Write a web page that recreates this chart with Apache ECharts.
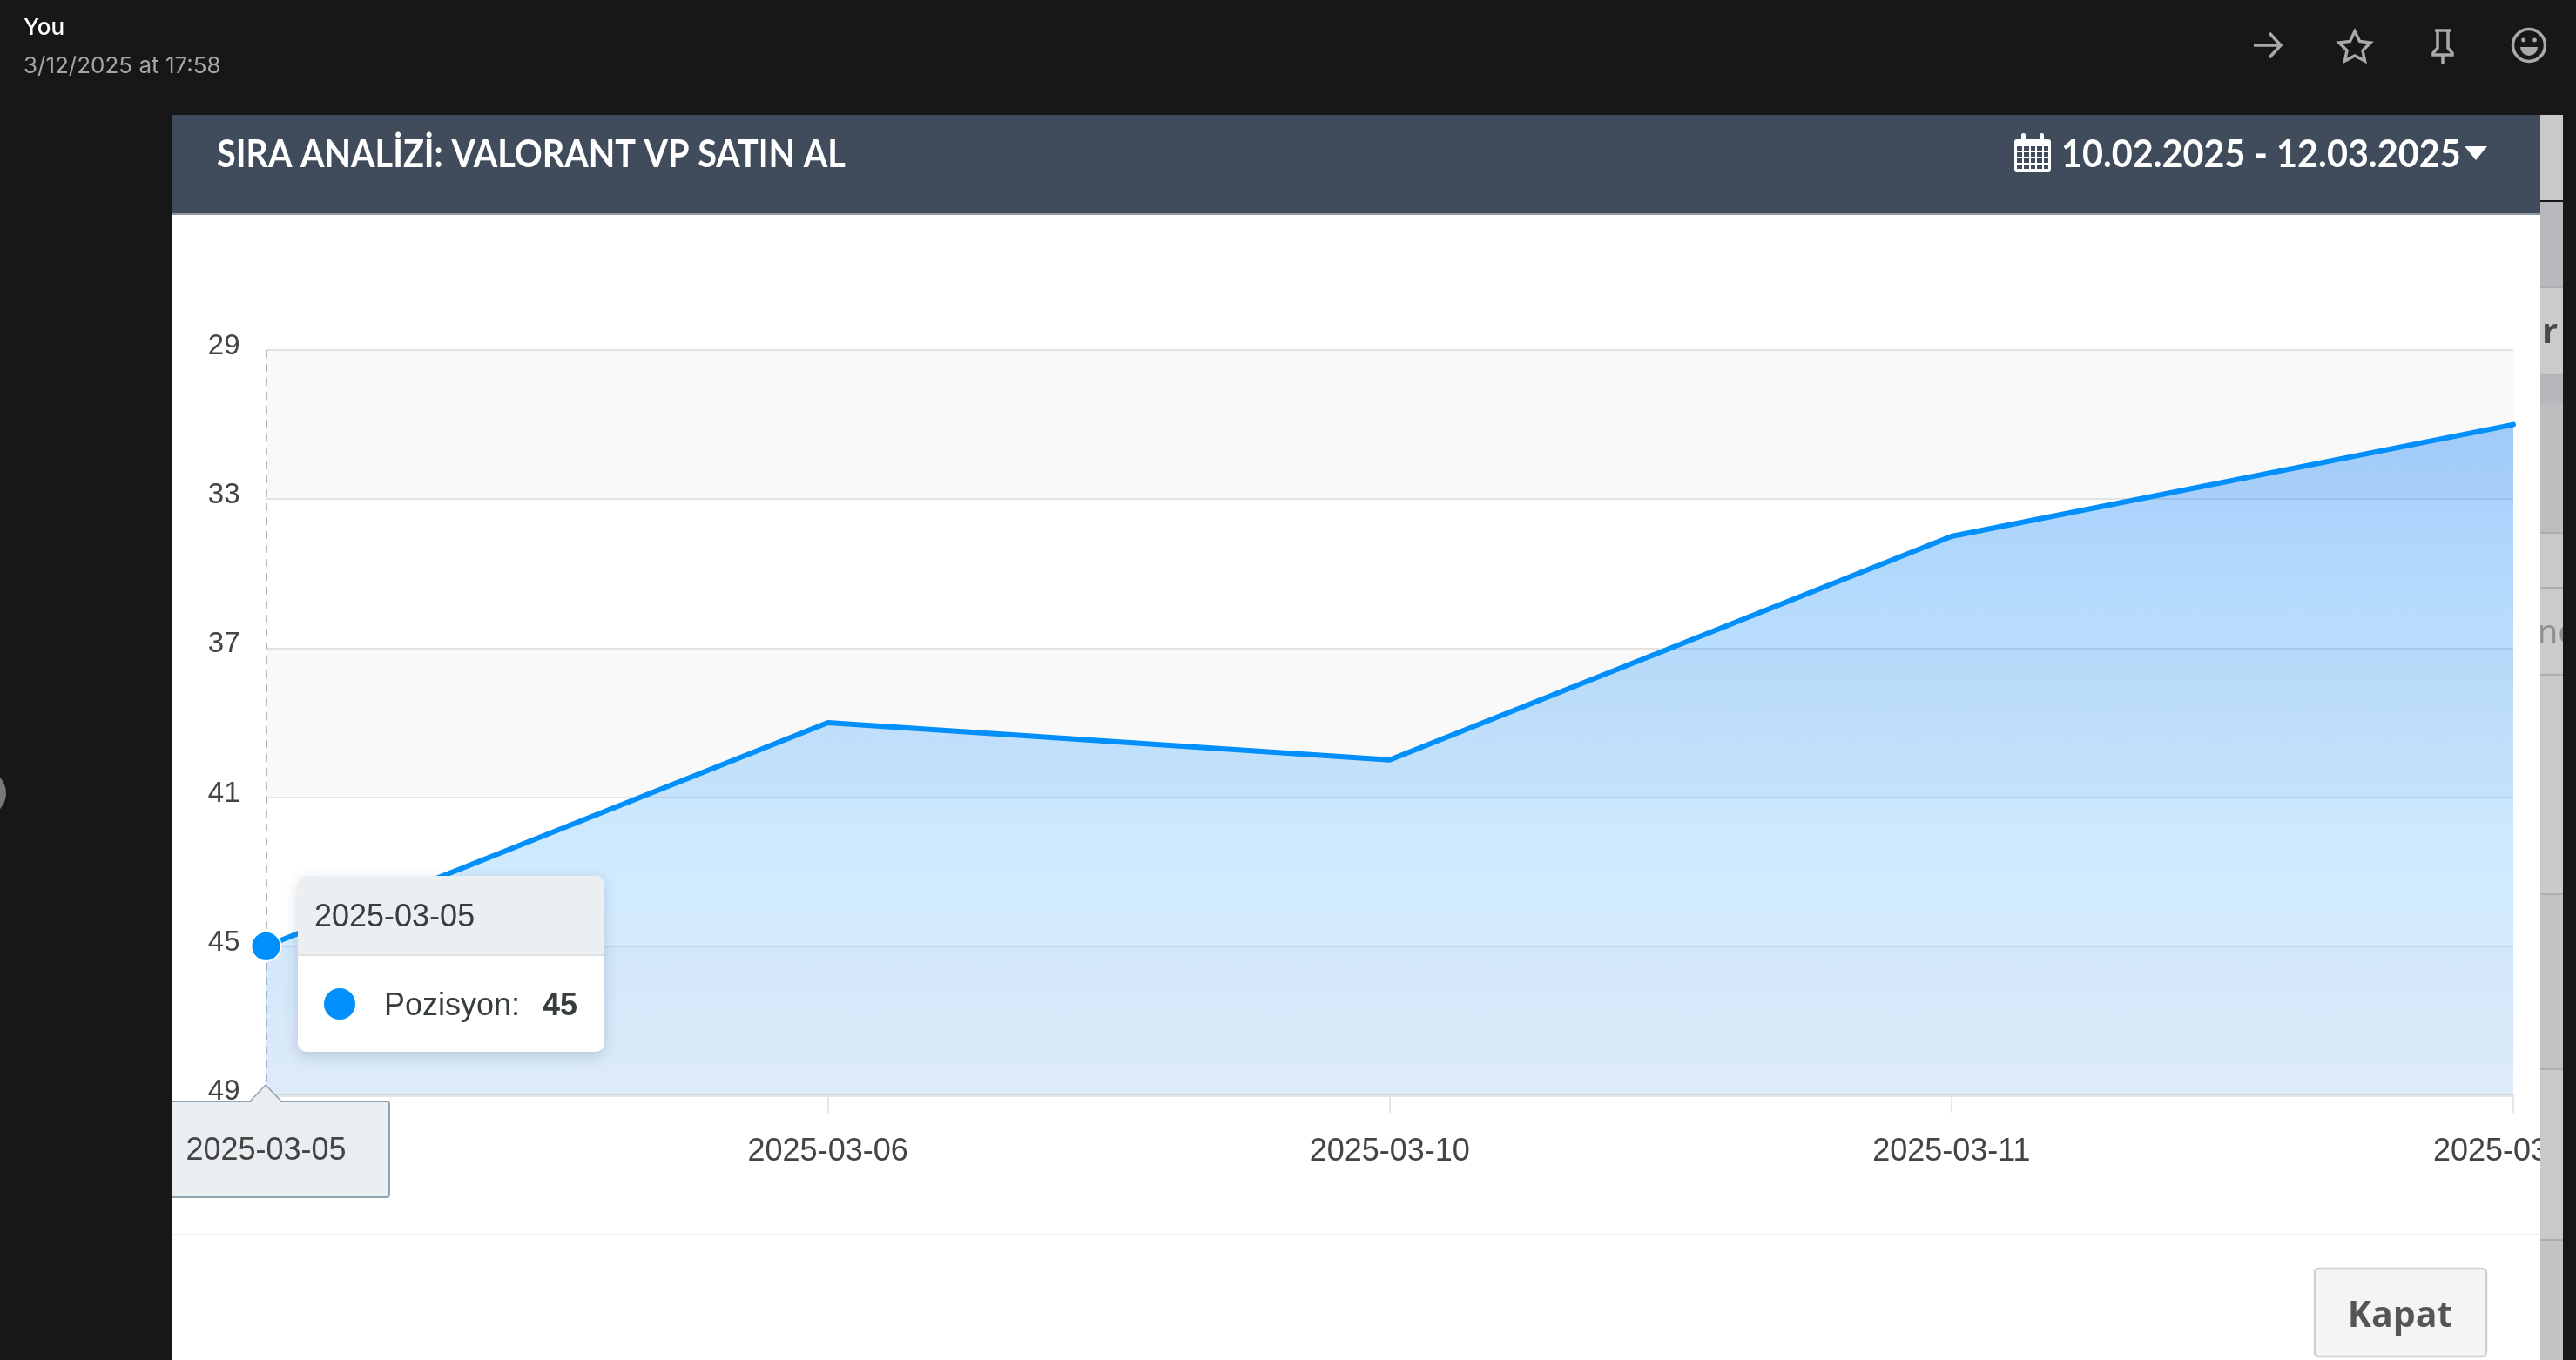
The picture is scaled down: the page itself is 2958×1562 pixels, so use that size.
<!DOCTYPE html>
<html><head><meta charset="utf-8">
<style>html,body{margin:0;padding:0;background:#171717;overflow:hidden}#c{width:2958px;height:1562px}</style>
<script src="https://cdn.jsdelivr.net/npm/echarts@6/dist/echarts.min.js"></script>
</head><body><div id="c"></div>
<script>
const categories = ['2025-03-05','2025-03-06','2025-03-10','2025-03-11','2025-03-12'];
const positions = [45, 39, 40, 34, 31];
const yTicks = [29, 33, 37, 41, 45, 49];
const seriesName = 'Pozisyon';
const titleText = 'SIRA ANALİZİ: VALORANT VP SATIN AL';
const dateRange = '10.02.2025 - 12.03.2025';
const activeIndex = 0;

const SANS = '"Liberation Sans", Arial, sans-serif';
const BRAND = '#008ffb';
const chart = echarts.init(document.getElementById('c'), null, {renderer:'canvas', width:2958, height:1562});

const rect = (x,y,w,h,fill,z,extra) => Object.assign({type:'rect', silent:true, z:z, shape:{x,y,width:w,height:h}, style:{fill}}, extra||{});
const txt = (x,y,text,font,fill,z,align,sx) => ({type:'text', silent:true, z:z, x, y, scaleX:sx||1, style:{text, font, fill, textAlign:align||'left', textVerticalAlign:'middle'}});
const ICON = {stroke:'#a9a9a9', fill:'none', lineWidth:3.5};
const pline = (points) => ({type:'polyline', silent:true, z:110, shape:{points}, style:ICON});
const pgon = (points) => ({type:'polygon', silent:true, z:110, shape:{points}, style:ICON});

const stripBands = [[132,98,'#c9c9c9'],[232,98,'#b7b8bb'],[330,100,'#cbcbcb'],[430,33,'#b6b7ba'],[463,149,'#bcbdbf'],[612,63,'#c9c9c9'],[675,100,'#cbcbcb'],[775,252,'#cacaca'],[1027,201,'#c3c3c3'],[1228,196,'#c9c9c9'],[1424,138,'#c3c3c3']];
const stripLines = [330,430,612,675,775,1027,1228,1424];

const graphics = [
  rect(198,132,2719,1430,'#ffffff',-10),
  rect(198,132,2719,115,'#404c5b',-9),
  rect(198,245,2719,2,'#8d97a5',-9),
  rect(198,1417,2719,2,'#eeeeee',-9),
  {type:'rect', silent:true, z:60, shape:{x:160,y:1265,width:287,height:110,r:3}, style:{fill:'#ebeef1', stroke:'#90a4ae', lineWidth:2}},
  txt(305.5,1322,categories[activeIndex],'36px "Liberation Sans", Arial, sans-serif','#444444',62,'center'),
  {type:'polygon', silent:true, z:70, shape:{points:[[287,1267],[305,1246],[323,1267]]}, style:{fill:'#ebeef1'}},
  {type:'polyline', silent:true, z:71, shape:{points:[[287,1265],[305,1246],[323,1265]]}, style:{stroke:'#90a4ae', lineWidth:1.5, fill:'none'}},
  rect(0,132,198,1430,'#171717',100),
  {type:'circle', silent:true, z:101, shape:{cx:-20,cy:911,r:27}, style:{fill:'#77787a'}},
  txt(27,32,'You','500 26px Inter, sans-serif','#ffffff',110),
  txt(27,76,'3/12/2025 at 17:58','400 26px Inter, sans-serif','#a5a5a5',110),
  txt(249,178,titleText,'700 44px Lato, sans-serif','#ffffff',110,'left',0.9),
  txt(2367,178,dateRange,'700 44px Lato, sans-serif','#ffffff',110,'left',0.94),
  rect(2313,160,42,37,'#ffffff',110,{shape:{x:2313,y:160,width:42,height:37,r:3}}),
  rect(2321,153,5,12,'#ffffff',111,{shape:{x:2321,y:153,width:5,height:12,r:2}}),
  rect(2342,153,5,12,'#ffffff',111,{shape:{x:2342,y:153,width:5,height:12,r:2}}),
  rect(2316,168,36,26,'#404c5b',111),
  rect(2316,173,36,2,'#ffffff',112), rect(2316,180,36,2,'#ffffff',112), rect(2316,187,36,2,'#ffffff',112),
  rect(2322,168,2,26,'#ffffff',112), rect(2330,168,2,26,'#ffffff',112), rect(2337,168,2,26,'#ffffff',112), rect(2345,168,2,26,'#ffffff',112),
  {type:'polygon', silent:true, z:110, shape:{points:[[2830,168],[2856,168],[2843,184]]}, style:{fill:'#ffffff'}},
  pline([[2588,52],[2618,52]]),
  pline([[2606,38],[2619,52],[2606,66]]),
  pgon([[2704,36],[2709.6,47.5],[2722,49],[2713,58],[2715.5,70],[2704,64],[2692.5,70],[2695,58],[2686,49],[2698.4,47.5]]),
  pline([[2796,35],[2814,35]]),
  pline([[2799,35],[2799,55],[2794,61],[2794,63],[2816,63],[2816,61],[2811,55],[2811,35]]),
  pline([[2805,63],[2805,73]]),
  {type:'circle', silent:true, z:110, shape:{cx:2904,cy:52,r:18.5}, style:{fill:'none', stroke:'#a9a9a9', lineWidth:3.5}},
  {type:'circle', silent:true, z:110, shape:{cx:2897.5,cy:46,r:2.4}, style:{fill:'#a9a9a9'}},
  {type:'circle', silent:true, z:110, shape:{cx:2910.5,cy:46,r:2.4}, style:{fill:'#a9a9a9'}},
  {type:'sector', silent:true, z:110, shape:{cx:2904,cy:54,r:10,r0:0,startAngle:0,endAngle:Math.PI}, style:{fill:'#a9a9a9'}},
  {type:'rect', silent:true, z:110, shape:{x:2658,y:1457,width:197,height:101,r:5}, style:{fill:'#f4f4f4', stroke:'#cfcfcf', lineWidth:2.5}},
  txt(2756,1512,'Kapat','700 41px "Open Sans", sans-serif','#555555',111,'center'),
  txt(2919,383,'r','700 40px "Open Sans", sans-serif','#4a4a4a',104),
  txt(2914,728,'ne','400 38px "Open Sans", sans-serif','#8f8f8f',104),
];
stripBands.forEach(b => graphics.push(rect(2917,b[0],26,b[1],b[2],102)));
stripLines.forEach(y => graphics.push(rect(2917,y-1,26,2,'#aeaeae',103)));
graphics.push(rect(2943,132,15,1430,'#171717',105));

chart.setOption({
  animation:false,
  backgroundColor:'#171717',
  textStyle:{fontFamily:SANS},
  graphic:graphics,
  grid:{left:305.5, top:402, right:72, bottom:304, containLabel:false, outerBoundsMode:'none'},
  tooltip:{
    trigger:'axis', alwaysShowContent:true, showContent:true, transitionDuration:0,
    padding:0, borderWidth:0, backgroundColor:'transparent',
    extraCssText:'box-shadow:none;',
    axisPointer:{type:'none'},
    position:[342,1006],
    formatter:p => {
      const d = p[0];
      return '<div style="width:352px;height:202px;border-radius:10px;background:#fff;box-shadow:0 5px 16px rgba(60,80,110,.22);overflow:hidden;font-family:'+"'Liberation Sans',Arial,sans-serif"+';color:#373d3f;">'
        +'<div style="height:90px;line-height:92px;background:#eceff1;border-bottom:2px solid #dfe2e5;padding-left:19px;font-size:36px;">'+d.axisValue+'</div>'
        +'<div style="position:relative;height:110px;">'
        +'<span style="position:absolute;left:30px;top:37px;width:36px;height:36px;border-radius:50%;background:'+BRAND+';"></span>'
        +'<span style="position:absolute;left:99px;top:34px;font-size:36px;line-height:44px;">'+d.seriesName+':</span>'
        +'<b style="position:absolute;left:281px;top:34px;font-size:36px;line-height:44px;">'+d.value+'</b>'
        +'</div></div>';
    }
  },
  xAxis:{
    type:'category', data:categories, boundaryGap:false,
    axisLine:{lineStyle:{color:'#e6e6e6', width:3}},
    axisTick:{show:true, length:20, lineStyle:{color:'#e6e6e6', width:2}, alignWithLabel:true},
    axisLabel:{color:'#444444', fontSize:36, fontFamily:SANS, margin:47, interval:0, hideOverlap:false},
    splitLine:{show:false}
  },
  yAxis:{
    type:'value', inverse:true, min:29, max:49,
    axisLine:{show:false},
    axisTick:{show:false, customValues:yTicks},
    axisLabel:{color:'#444444', fontSize:33, fontFamily:SANS, margin:30, customValues:yTicks, verticalAlign:'bottom', lineHeight:8},
    splitLine:{show:true, customValues:yTicks, lineStyle:{color:'#e3e3e3', width:2}},
    splitArea:{show:true, customValues:yTicks, areaStyle:{color:['#faf9fa','#ffffff']}}
  },
  series:[{
    name:seriesName, type:'line', z:3, data:positions, clip:false, smooth:false,
    showSymbol:true, showAllSymbol:true, symbol:'circle',
    symbolSize:(v,p)=> p.dataIndex===activeIndex ? 31 : 0,
    itemStyle:{color:BRAND, borderColor:'#ffffff', borderWidth:2},
    lineStyle:{color:BRAND, width:6, cap:'round'},
    emphasis:{disabled:true},
    markLine:{silent:true, z:1, symbol:'none', animation:false, label:{show:false}, emphasis:{disabled:true},
      lineStyle:{color:'#b9b9b9', width:2, type:[9,7]},
      data:[{xAxis:categories[activeIndex]}]},
    areaStyle:{origin:'end', opacity:1, color:{type:'linear',x:0,y:0,x2:0,y2:1,colorStops:[
      {offset:0,color:'rgba(0,118,245,0.36)'},
      {offset:0.6,color:'rgba(0,143,251,0.20)'},
      {offset:1,color:'rgba(30,140,245,0.13)'}
    ]}}
  }]
});
chart.dispatchAction({type:'showTip', seriesIndex:0, dataIndex:activeIndex});
</script></body></html>
